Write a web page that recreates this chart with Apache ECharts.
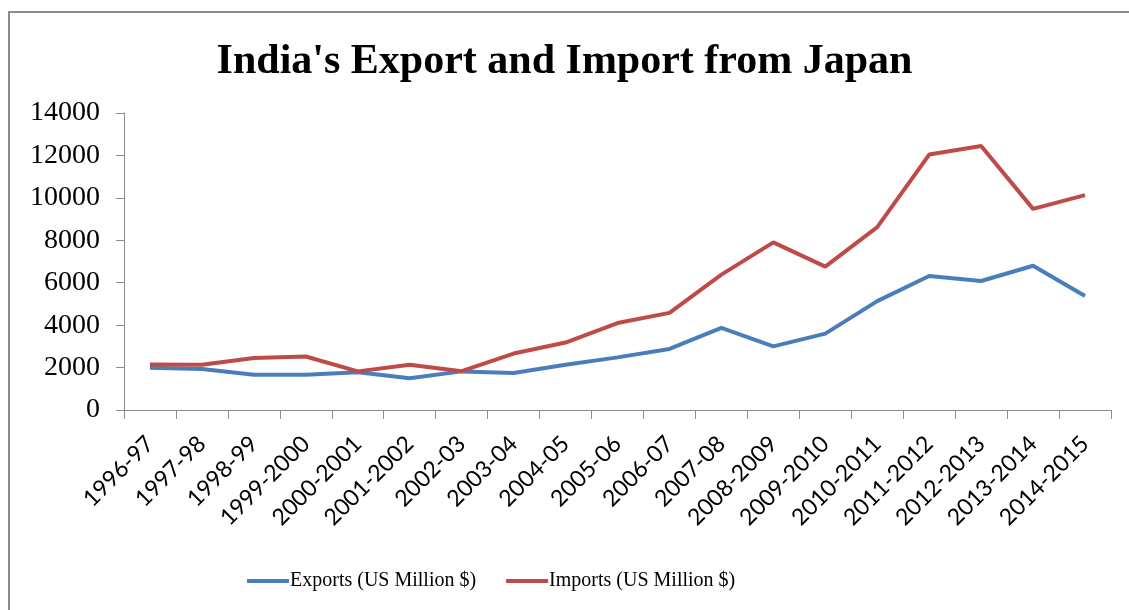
<!DOCTYPE html>
<html><head><meta charset="utf-8">
<script src="https://cdn.jsdelivr.net/npm/echarts@6/dist/echarts.min.js"></script>
<style>html,body{margin:0;padding:0;background:#fff}#c{width:1129px;height:610px}</style>
</head><body><div id="c"></div>
<script>
const categories = ['1996-97','1997-98','1998-99','1999-2000','2000-2001','2001-2002','2002-03','2003-04','2004-05','2005-06','2006-07','2007-08','2008-2009','2009-2010','2010-2011','2011-2012','2012-2013','2013-2014','2014-2015'];
const exportsUS = [1990,1930,1660,1660,1780,1500,1820,1740,2135,2480,2880,3870,3000,3600,5130,6320,6080,6800,5370];
const importsUS = [2140,2130,2450,2520,1820,2130,1830,2660,3180,4100,4580,6380,7900,6760,8620,12040,12440,9480,10130];
const yTicks = {min:0, max:14000, interval:2000};

const chart = echarts.init(document.getElementById('c'));
chart.setOption({
  animation:false,
  backgroundColor:'#fff',
  graphic:[{type:'rect',shape:{x:9,y:12,width:1140,height:620},style:{fill:'none',stroke:'#8c8c8c',lineWidth:2},silent:true}],
  title:{text:"India's Export and Import from Japan",left:'center',top:36,
    textStyle:{fontFamily:'Liberation Serif',fontWeight:'bold',fontSize:42,color:'#000'}},
  grid:{left:124,right:18,top:113,bottom:200},
  legend:{bottom:14,left:242,itemWidth:42,itemHeight:4,itemGap:30,icon:'rect',
    textStyle:{fontFamily:'Liberation Serif',fontSize:20,color:'#000',padding:[0,0,0,-4]},
    data:['Exports (US Million $)','Imports (US Million $)']},
  xAxis:{type:'category',data:categories,boundaryGap:true,
    axisLine:{lineStyle:{color:'#8c8c8c',width:1}},
    axisTick:{show:true,length:9,alignWithLabel:false,lineStyle:{color:'#8c8c8c'}},
    axisLabel:{rotate:45,interval:0,fontFamily:'Lato',fontSize:23,color:'#000',margin:30}},
  yAxis:{type:'value',min:yTicks.min,max:yTicks.max,interval:yTicks.interval,
    splitLine:{show:false},
    axisLine:{show:true,lineStyle:{color:'#8c8c8c',width:1}},
    axisTick:{show:true,length:8,lineStyle:{color:'#8c8c8c'}},
    axisLabel:{fontFamily:'Liberation Serif',fontSize:28,color:'#000',margin:24,formatter:v=>String(v)}},
  series:[
    {name:'Exports (US Million $)',type:'line',data:exportsUS,symbol:'none',
      lineStyle:{color:'#4a7ebb',width:4},itemStyle:{color:'#4a7ebb'}},
    {name:'Imports (US Million $)',type:'line',data:importsUS,symbol:'none',
      lineStyle:{color:'#be4b48',width:4},itemStyle:{color:'#be4b48'}}
  ]
});
</script></body></html>
